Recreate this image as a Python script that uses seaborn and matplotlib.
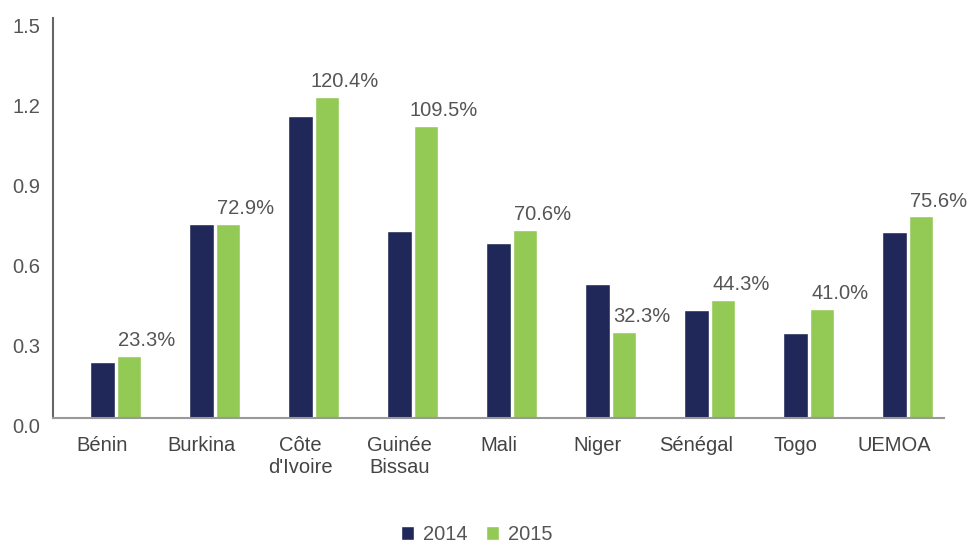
import matplotlib
matplotlib.use("Agg")
import matplotlib.pyplot as plt
from matplotlib.ticker import FixedLocator
import seaborn as sns
import pandas as pd

categories = ["Bénin", "Burkina", "Côte\nd'Ivoire", "Guinée\nBissau", "Mali",
              "Niger", "Sénégal", "Togo", "UEMOA"]
values_2014 = [0.210, 0.727, 1.132, 0.700, 0.656, 0.502, 0.405, 0.319, 0.697]
values_2015 = [0.233, 0.729, 1.204, 1.095, 0.706, 0.323, 0.443, 0.410, 0.756]
series = ["2014", "2015"]
y_ticks = [0.0, 0.3, 0.6, 0.9, 1.2, 1.5]

navy = "#1F2858"
green = "#93C955"
text_col = "#555555"

df = pd.DataFrame({
    "pays": categories * 2,
    "annee": [series[0]] * len(categories) + [series[1]] * len(categories),
    "valeur": values_2014 + values_2015,
})

sns.set_style("white")
plt.rcParams["font.family"] = ["Liberation Sans", "DejaVu Sans"]

fig = plt.figure(figsize=(9.73, 5.46), dpi=100)
ax = fig.add_axes([53 / 973, 1 - 418 / 546, (944 - 53) / 973, 400 / 546])

# a hidden third hue slot reproduces the original's off-centre clustering
hue_order = ["_vide"] + series
palette = {"_vide": "white", "2014": navy, "2015": green}
sns.barplot(data=df, x="pays", y="valeur", hue="annee", hue_order=hue_order,
            order=categories, palette=palette, width=0.8, gap=0.09,
            saturation=1, ax=ax, legend=True)

ax.set_xlim(-0.5, len(categories) - 0.5)
ax.set_ylim(0, 1.5)
ax.set_yticks(y_ticks)
ax.set_yticklabels([f"{t:.1f}" for t in y_ticks])
ax.set_xlabel("")
ax.set_ylabel("")

for s in ["top", "right"]:
    ax.spines[s].set_visible(False)
ax.spines["left"].set_color("#666666")
ax.spines["bottom"].set_color("#999999")
ax.spines["left"].set_linewidth(1.5)
ax.spines["bottom"].set_linewidth(1.5)

ax.tick_params(axis="y", direction="in", length=17, width=1.5, color="#666666",
               labelsize=14.5, labelcolor=text_col, pad=9)
for lab in ax.get_yticklabels():
    lab.set_verticalalignment("top")
ax.tick_params(axis="x", which="major", length=0, labelsize=14.5,
               labelcolor="#444444", pad=13)
ax.xaxis.set_minor_locator(FixedLocator([i + 0.5 for i in range(len(categories))]))
ax.tick_params(axis="x", which="minor", direction="in", length=6, width=1.5,
               color="#999999")

# data labels on the 2015 bars
green_container = ax.containers[hue_order.index("2015")]
for bar, v in zip(green_container, values_2015):
    ax.annotate(f"{v * 100:.1f}%",
                xy=(bar.get_x() + bar.get_width() / 2, bar.get_height()),
                xytext=(13, 4), textcoords="offset points",
                ha="center", va="bottom", fontsize=14.5, color=text_col)

handles, labels = ax.get_legend_handles_labels()
keep = [(h, l) for h, l in zip(handles, labels) if l in series]
if ax.get_legend() is not None:
    ax.get_legend().remove()
fig.legend([h for h, _ in keep], [l for _, l in keep], loc="lower center",
           bbox_to_anchor=(0.49, -0.03), ncol=2, frameon=False, fontsize=14.5,
           handlelength=0.65, handleheight=0.65, handletextpad=0.45,
           columnspacing=0.9, labelcolor=text_col)

fig.savefig("out.png", dpi=100)
